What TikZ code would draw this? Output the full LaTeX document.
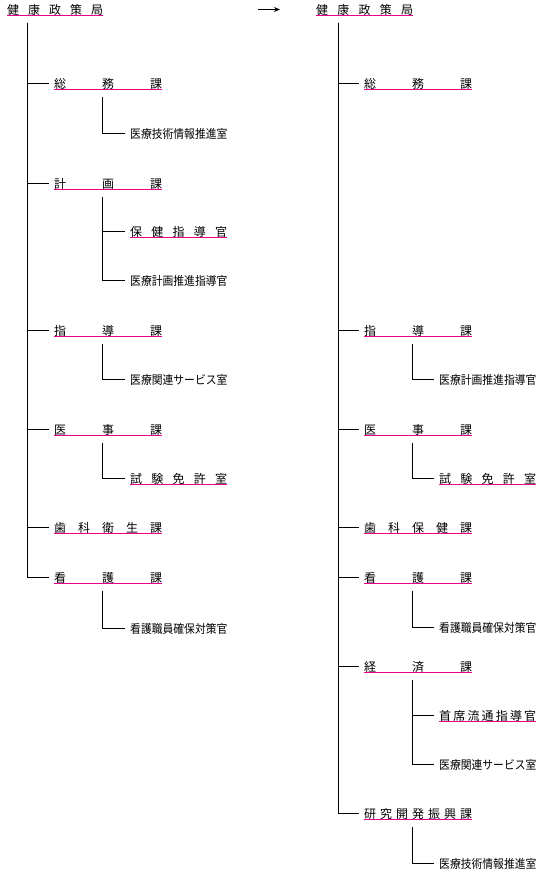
\documentclass[tikz,border=0pt]{standalone}
\usepackage{fontspec}
\setmainfont{Noto Sans CJK JP}
\usetikzlibrary{arrows.meta}
\newcommand{\narabe}[2]{\makebox[#1][s]{#2}}
\newcommand{\tsume}[1]{\scalebox{0.9}[1]{#1}}
\begin{document}
\begin{tikzpicture}[x=1pt,y=-1pt,
                moji/.style={anchor=west,inner sep=0pt,text height=10.5pt,text depth=1.5pt,font=\fontsize{12}{12}\selectfont},
                sen/.style={line width=1pt,shorten >=5pt},
                ul/.style={magenta,line width=1pt},
                yajirushi/.style={line width=1pt,-{Stealth[length=6pt,width=5pt]},shorten >=36pt}]
                \useasboundingbox (0,0) rectangle (555,873);
                \node[moji] (kL) at (7,9.5) {\narabe{96pt}{健 康 政 策 局}};
                \node[moji] (kR) at (316,9.5) {\narabe{97pt}{健 康 政 策 局}};
                \coordinate (ya) at (258,9.5);
                \draw[yajirushi] (ya) -- (kR);
                \node[moji] (soumuL) at (54,83.5) {\narabe{108pt}{総 務 課}};
                \node[moji] (keikakuL) at (54,183.5) {\narabe{108pt}{計 画 課}};
                \node[moji] (shidouL) at (54,330.5) {\narabe{108pt}{指 導 課}};
                \node[moji] (ijiL) at (54,429.5) {\narabe{108pt}{医 事 課}};
                \node[moji] (shikaL) at (54,527.5) {\narabe{108pt}{歯 科 衛 生 課}};
                \node[moji] (kangoL) at (54,577.5) {\narabe{108pt}{看 護 課}};
                \node[moji] (gijutsuL) at (130,133.5) {\tsume{医療技術情報推進室}};
                \node[moji] (hokenL) at (130,231.5) {\narabe{97pt}{保 健 指 導 官}};
                \node[moji] (suishinL) at (130,280.5) {\tsume{医療計画推進指導官}};
                \node[moji] (kanrenL) at (130,379.5) {\tsume{医療関連サービス室}};
                \node[moji] (shikenL) at (130,478.5) {\narabe{97pt}{試 験 免 許 室}};
                \node[moji] (kakuhoL) at (130,628.5) {\tsume{看護職員確保対策官}};
                \node[moji] (soumuR) at (364,83.5) {\narabe{108pt}{総 務 課}};
                \node[moji] (shidouR) at (364,330.5) {\narabe{108pt}{指 導 課}};
                \node[moji] (ijiR) at (364,429.5) {\narabe{108pt}{医 事 課}};
                \node[moji] (shikaR) at (364,527.5) {\narabe{108pt}{歯 科 保 健 課}};
                \node[moji] (kangoR) at (364,577.5) {\narabe{108pt}{看 護 課}};
                \node[moji] (keizaiR) at (364,666.5) {\narabe{108pt}{経 済 課}};
                \node[moji] (kenkyuR) at (364,813.5) {\narabe{108pt}{研 究 開 発 振 興 課}};
                \node[moji] (suishinR) at (439,379.5) {\tsume{医療計画推進指導官}};
                \node[moji] (shikenR) at (439,478.5) {\narabe{97pt}{試 験 免 許 室}};
                \node[moji] (kakuhoR) at (439,627.5) {\tsume{看護職員確保対策官}};
                \node[moji] (shusekiR) at (439,715.5) {\narabe{97pt}{首 席 流 通 指 導 官}};
                \node[moji] (kanrenR) at (439,764.5) {\tsume{医療関連サービス室}};
                \node[moji] (gijutsuR) at (439,863.5) {\tsume{医療技術情報推進室}};
                \coordinate (mL) at ([shift={(20.5,7)}]kL.south west);
                \coordinate (mR) at ([shift={(22.5,7)}]kR.south west);
                \foreach \c in {soumuL,keikakuL,shidouL,ijiL,shikaL,kangoL}
                    \draw[sen] (mL) |- (\c);
                \foreach \c in {soumuR,shidouR,ijiR,shikaR,kangoR,keizaiR,kenkyuR}
                    \draw[sen] (mR) |- (\c);
                \foreach \p/\c in {soumuL/gijutsuL,keikakuL/hokenL,keikakuL/suishinL,shidouL/kanrenL,ijiL/shikenL,kangoL/kakuhoL,
                                   shidouR/suishinR,ijiR/shikenR,kangoR/kakuhoR,keizaiR/shusekiR,keizaiR/kanrenR,kenkyuR/gijutsuR}
                    \draw[sen] ([shift={(48.5,7)}]\p.south west) |- (\c);
                \foreach \n in {kL,kR,soumuL,keikakuL,shidouL,ijiL,shikaL,kangoL,hokenL,shikenL,
                                soumuR,shidouR,ijiR,shikaR,kangoR,keizaiR,kenkyuR,shikenR,shusekiR}
                    \draw[ul] (\n.south west) -- (\n.south east);
            \end{tikzpicture}
\end{document}
